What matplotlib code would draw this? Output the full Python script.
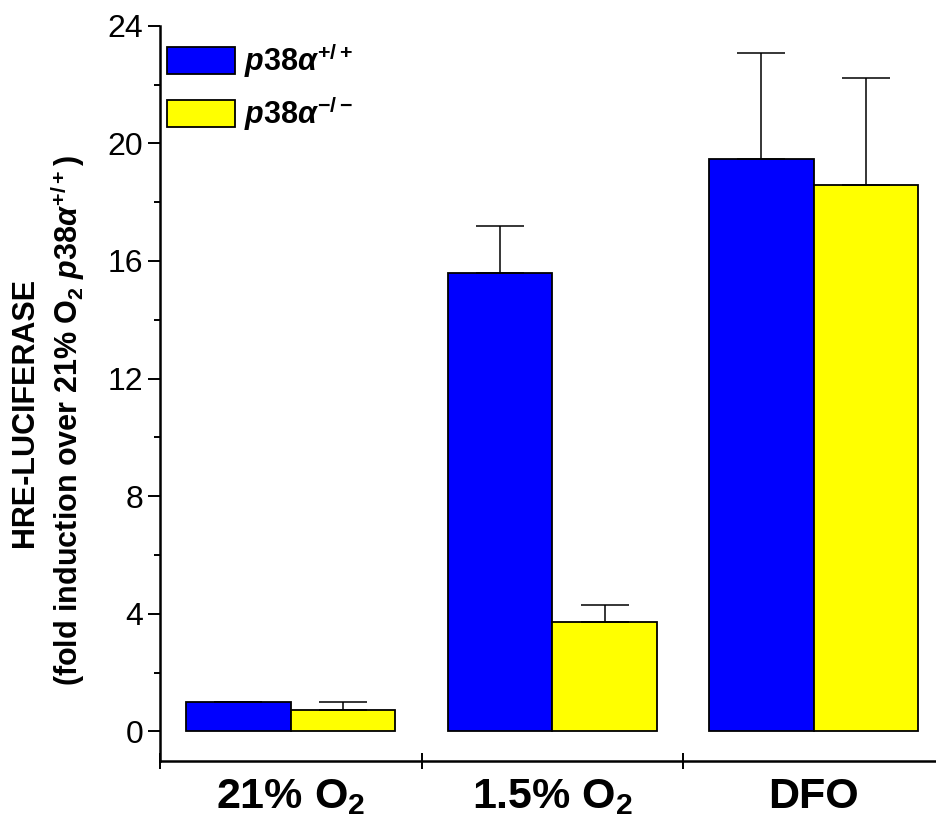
import numpy as np
import matplotlib
matplotlib.use('Agg')
import matplotlib.pyplot as plt
from matplotlib import font_manager

# data
groups = ['21% O$_2$', '1.5% O$_2$', 'DFO']
wt_vals = [0.99, 15.58, 19.47]
wt_err = [0.0, 1.62, 3.59]
ko_vals = [0.74, 3.73, 18.57]
ko_err = [0.24, 0.57, 3.66]
series_labels = [r'$\mathit{p38\alpha}^{+/+}$', r'$\mathit{p38\alpha}^{-/-}$']
yticks = [0, 4, 8, 12, 16, 20, 24]

names = set(f.name for f in font_manager.fontManager.ttflist)
base = 'Liberation Sans'
narrow = 'Liberation Sans Narrow' if 'Liberation Sans Narrow' in names else base

plt.rcParams['font.family'] = [base, 'DejaVu Sans']
plt.rcParams['mathtext.fontset'] = 'custom'
plt.rcParams['mathtext.rm'] = base + ':bold'
plt.rcParams['mathtext.bf'] = base + ':bold'
plt.rcParams['mathtext.it'] = base + ':italic:bold'

fig = plt.figure(figsize=(9.36, 8.33), dpi=100)
ax = fig.add_axes([160 / 936, 1 - 760.7 / 833, 1 - 160 / 936, (760.7 - 25.7) / 833])

x = np.arange(len(groups))
w = 0.4
ax.bar(x - w / 2, wt_vals, w, color='#0000ff', edgecolor='black', linewidth=1.3,
       yerr=[[0] * 3, wt_err], capsize=17, error_kw=dict(ecolor='black', elinewidth=1.1, capthick=1.1),
       label=series_labels[0], zorder=2)
ax.bar(x + w / 2, ko_vals, w, color='#ffff00', edgecolor='black', linewidth=1.3,
       yerr=[[0] * 3, ko_err], capsize=17, error_kw=dict(ecolor='black', elinewidth=1.1, capthick=1.1),
       label=series_labels[1], zorder=2)

ax.set_xlim(-0.5, -0.5 + 776 / 261.5)
ax.set_ylim(-1, 24)

for s in ['top', 'right']:
    ax.spines[s].set_visible(False)
for s in ['left', 'bottom']:
    ax.spines[s].set_linewidth(1.8)

ax.set_yticks(yticks)
ax.set_yticks(np.arange(2, 24, 4), minor=True)
ax.tick_params(axis='y', which='major', length=8.5, width=1.4, pad=3.5, labelsize=23)
ax.tick_params(axis='y', which='minor', length=4.3, width=1.4)

ax.set_xticks([-0.5, 0.5, 1.5])
ax.set_xticklabels([])
ax.set_xticks(x, minor=True)
ax.set_xticklabels(groups, minor=True, fontsize=31, fontweight='bold', fontfamily=narrow)
ax.tick_params(axis='x', which='major', direction='inout', length=11, width=1.4)
ax.tick_params(axis='x', which='minor', length=0, pad=12)

fig.text(25 / 936, 1 - 412 / 833, 'HRE-LUCIFERASE', rotation=90, ha='center', va='center',
         fontsize=22, fontweight='bold')
fig.text(68 / 936, 1 - 421 / 833, r'(fold induction over 21% O$_2$ $\mathit{p38\alpha}^{+/+}$)',
         rotation=90, ha='center', va='center', fontsize=22, fontweight='bold')

ax.legend(loc='upper left', bbox_to_anchor=(167 / 936, 1 - 41 / 833), bbox_transform=fig.transFigure,
          frameon=False, fontsize=22, handlelength=2.22, handleheight=0.98, handletextpad=0.3,
          labelspacing=0.45, borderpad=0, borderaxespad=0)

fig.savefig('out.png', dpi=100)
